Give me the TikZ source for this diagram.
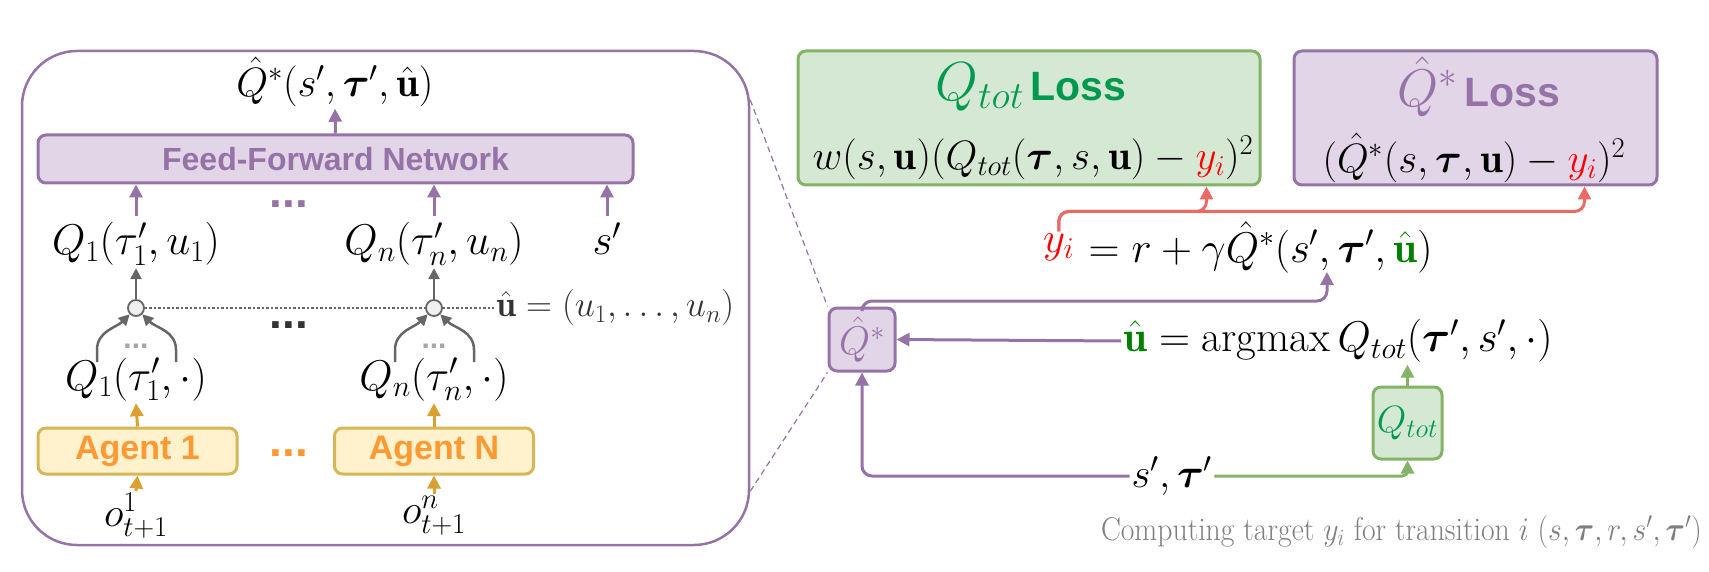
\RequirePackage{fix-cm}
\documentclass[tikz,border=0pt]{standalone}
\usepackage{graphicx}
\usepackage{amsmath,amssymb,bm}
\usepackage{fontspec}
\newfontfamily\lsans{Liberation Sans}
\usetikzlibrary{arrows.meta,calc}
\definecolor{pdraw}{HTML}{9673A6}
\definecolor{pfill}{HTML}{E1D5E7}
\definecolor{gdraw}{HTML}{82B366}
\definecolor{gfill}{HTML}{D5E8D4}
\definecolor{ydraw}{HTML}{D6B656}
\definecolor{yfill}{HTML}{FFF2CC}
\definecolor{otext}{HTML}{FF9933}
\definecolor{oarrow}{HTML}{DAA030}
\definecolor{gtext}{HTML}{00994D}
\definecolor{redline}{HTML}{EA6B66}
\definecolor{darkg}{HTML}{666666}
\definecolor{capg}{HTML}{7F7F7F}
\definecolor{ugreen}{HTML}{008000}
\definecolor{yred}{HTML}{FF0000}
\tikzset{
  lbl/.style={inner sep=2pt, font=\fontsize{41}{48}\selectfont},
  lblh/.style={inner sep=2pt, font=\fontsize{43}{50}\selectfont, text height=29pt, text depth=11pt},
  arr/.style={line width=3pt, -{Triangle[length=13pt,width=13pt]}},
  parr/.style={arr, draw=pdraw, rounded corners=10pt},
  oarr/.style={arr, draw=oarrow},
  rarr/.style={arr, draw=redline, rounded corners=10pt},
  grarr/.style={arr, draw=gdraw, rounded corners=5pt},
  garr/.style={line width=2.5pt, draw=darkg, -{Triangle[length=11pt,width=11pt]}},
  dotl/.style={draw=darkg, line width=2.5pt, dash pattern=on 2.5pt off 2pt},
  zoomline/.style={draw=pdraw, line width=1.2pt, dash pattern=on 6pt off 4pt},
  panel/.style={draw=pdraw, line width=2.5pt, rounded corners=55pt, inner sep=0pt},
  pbox/.style={draw=pdraw, fill=pfill, line width=3pt, rounded corners=8pt, inner sep=0pt},
  gbox/.style={draw=gdraw, fill=gfill, line width=3pt, rounded corners=8pt, inner sep=0pt},
  ybox/.style={draw=ydraw, fill=yfill, line width=3pt, rounded corners=8pt, inner sep=0pt,
    text=otext, font=\lsans\bfseries\fontsize{34}{40}\selectfont},
  dots/.style={inner sep=0pt, font=\lsans\bfseries\fontsize{46}{50}\selectfont},
  circ/.style={circle, draw=darkg, fill=gray!12, line width=1.8pt, minimum size=16pt, inner sep=0pt},
}
\begin{document}
\begin{tikzpicture}[x=1pt,y=-1pt]
\useasboundingbox (0,0) rectangle (1709,572);
% ---------------- left panel ----------------
\node[panel, minimum width=727pt, minimum height=494pt] (panel) at (385.5,298) {};
\node[lbl] (qout) at (335,82) {$\hat{Q}^*(s',\bm{\tau}',\hat{\mathbf{u}})$};
\node[pbox, minimum width=595pt, minimum height=48pt, text=pdraw,
      font=\lsans\bfseries\fontsize{32}{38}\selectfont] (ffn) at (335.5,159) {Feed-Forward Network};
\draw[parr] (ffn.north) -- (qout.south);

\node[lblh] (q1) at (136,246) {$Q_1(\tau'_1,u_1)$};
\node[lblh] (qn) at (434,246) {$Q_n(\tau'_n,u_n)$};
\node[lblh] (sp) at (607,246) {$s'$};
\draw[parr] ($(q1.north)+(0,-8)$) -- (q1.north |- ffn.south);
\draw[parr] ($(qn.north)+(0,-8)$) -- (qn.north |- ffn.south);
\draw[parr] ($(sp.north)+(0,-8)$) -- (sp.north |- ffn.south);
\node[dots, text=pdraw] (pdots) at (289,204) {...};

\node[circ] (c1) at (136,308) {};
\node[circ] (c2) at (434,308) {};
\draw[garr] (c1.north) -- (q1.south);
\draw[garr] (c2.north) -- (qn.south);
\node[inner sep=2pt, anchor=west, text=black!80, font=\fontsize{36}{42}\selectfont] (uhat) at (494,308) {$\hat{\mathbf{u}}=(u_1,\dots,u_n)$};
\draw[dotl] (c1.east) -- (c2.west);
\draw[dotl] (c2.east) -- (uhat.west);

\coordinate (c1l) at (97,362);
\coordinate (c1r) at (176,362);
\coordinate (c2l) at (395,362);
\coordinate (c2r) at (474,362);
\draw[garr] (c1l) -- ++(0,-12) to[out=90,in=-135] (c1.-135);
\draw[garr] (c1r) -- ++(0,-12) to[out=90,in=-45] (c1.-45);
\draw[garr] (c2l) -- ++(0,-12) to[out=90,in=-135] (c2.-135);
\draw[garr] (c2r) -- ++(0,-12) to[out=90,in=-45] (c2.-45);
\node[inner sep=0pt, text=gray!70, font=\lsans\bfseries\fontsize{30}{34}\selectfont] (gd1) at (136,346) {...};
\node[inner sep=0pt, text=gray!70, font=\lsans\bfseries\fontsize{30}{34}\selectfont] (gd2) at (434,346) {...};
\node[dots, text=black!80] (bdots) at (289,325) {...};

\node[lblh] (q1d) at (136,381) {$Q_1(\tau'_1,\cdot)$};
\node[lblh] (qnd) at (434,381) {$Q_n(\tau'_n,\cdot)$};

\node[ybox, minimum width=199pt, minimum height=46pt] (a1) at (137.5,451) {Agent 1};
\node[ybox, minimum width=199pt, minimum height=46pt] (an) at (434,451) {Agent N};
\node[dots, text=otext] (odots) at (289,453) {...};
\draw[oarr] (a1.north) -- (q1d.south);
\draw[oarr] (an.north) -- (qnd.south);

\node[lbl] (o1) at (136,516) {$o^1_{t+1}$};
\node[lbl] (on) at (434,516) {$o^n_{t+1}$};
\draw[oarr] (o1.north) -- (a1.south);
\draw[oarr] (on.north) -- (an.south);

% ---------------- right part ----------------
\node[gbox, minimum width=462pt, minimum height=134pt] (lossq) at (1029,118) {};
\node[lbl, text=gtext] (lqt) at (1031,87) {{\fontsize{55}{62}\selectfont$Q_{tot}$}\,{\lsans\bfseries\fontsize{41}{46}\selectfont Loss}};
\node[lbl] (lqf) at (1033,158) {$w(s,\mathbf{u})(Q_{tot}(\bm{\tau},s,\mathbf{u})-\textcolor{yred}{y_i})^2$};

\node[pbox, minimum width=363pt, minimum height=134pt] (lossh) at (1475.5,118) {};
\node[lbl, text=pdraw] (lht) at (1479,87) {{\fontsize{53}{60}\selectfont$\hat{Q}^*$}\,{\lsans\bfseries\fontsize{41}{46}\selectfont Loss}};
\node[lbl] (lhf) at (1474,158) {$(\hat{Q}^*(s,\bm{\tau},\mathbf{u})-\textcolor{yred}{y_i})^2$};

\node[inner sep=2pt, anchor=west, font=\fontsize{43}{50}\selectfont] (yi) at (1041,247) {$\textcolor{yred}{y_i}$};
\node[inner sep=0pt, anchor=west, font=\fontsize{43}{50}\selectfont] (yeq) at (yi.east) {${}=r+\gamma\hat{Q}^*(s',\bm{\tau}',\textcolor{ugreen}{\hat{\mathbf{u}}})$};
\draw[rarr] (yi.north) |- ($(lossq.south east)+(-55,25)$) -- ($(lossq.south east)+(-55,0)$);
\draw[rarr] (yi.north) |- ($(lossh.south east)+(-74,25)$) -- ($(lossh.south east)+(-74,0)$);

\node[pbox, minimum width=66pt, minimum height=63pt, text=pdraw] (qs) at (862,339.5) {\fontsize{40}{46}\selectfont$\hat{Q}^*$};
\coordinate (yin) at (1327,272);
\draw[parr] (qs.north) |- ($(yin)+(0,29)$) -- (yin);

\node[inner sep=2pt, anchor=west, font=\fontsize{43}{50}\selectfont] (argm) at (1121,341) {$\textcolor{ugreen}{\hat{\mathbf{u}}}=\mathrm{argmax}\,Q_{tot}(\bm{\tau}',s',\cdot)$};
\draw[parr] (argm.west) -- (qs.east);

\node[gbox, minimum width=69pt, minimum height=72pt, text=gtext] (qt) at (1407.5,423) {\fontsize{38}{44}\selectfont$Q_{tot}$};
\draw[grarr] (qt.north) -- (qt.north |- argm.south);

\node[lbl] (st) at (1172,476) {$s',\bm{\tau}'$};
\draw[parr] (st.west) -| (qs.south);
\draw[grarr] (st.east) -| (qt.south);

\draw[zoomline] ($(panel.north east)+(0,50)$) -- (qs.north west);
\draw[zoomline] ($(panel.south east)+(0,-55)$) -- (qs.south west);

\node[inner sep=0pt, anchor=east, text=capg] (cap) at (1702,532)
  {\scalebox{0.9}[1]{\fontsize{33}{38}\selectfont Computing target $y_i$ for transition $i$ $(s,\bm{\tau},r,s',\bm{\tau}')$}};
\end{tikzpicture}
\end{document}
